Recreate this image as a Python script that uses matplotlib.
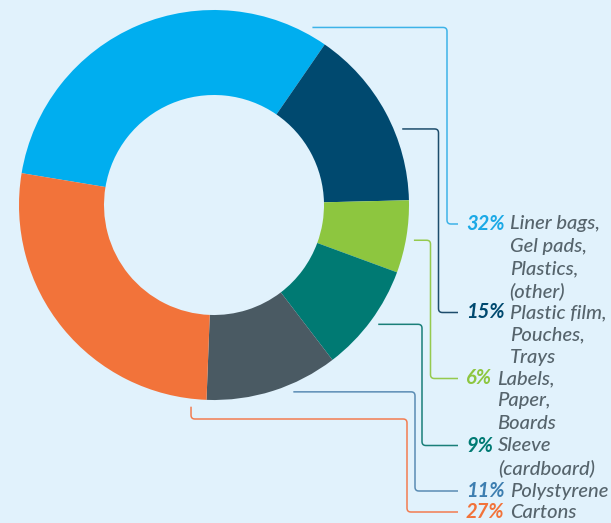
import numpy as np
import matplotlib.pyplot as plt

# data, in the order the labels are listed
pcts = [32, 15, 6, 9, 11, 27]
labels = [
    ["Liner bags,", "Gel pads,", "Plastics,", "(other)"],
    ["Plastic film,", "Pouches,", "Trays"],
    ["Labels,", "Paper,", "Boards"],
    ["Sleeve", "(cardboard)"],
    ["Polystyrene"],
    ["Cartons"],
]
slice_colors = ["#00AEEF", "#00496F", "#8DC63F", "#007A73", "#4A5A63", "#F2733A"]
pct_colors = ["#1BA9E6", "#00496F", "#8DC63F", "#007A73", "#3D7EB0", "#F2733A"]
line_colors = ["#3DB3E8", "#1D4D6C", "#95CA4E", "#1A7F79", "#5A8CB4", "#F27C50"]

# layout (pixel coords, y from top)
W, H = 611, 523
cx, cy, R, ring = 214, 205, 195, 85
anchor_ang = [61, 22, -10, -36, -67, -96.5]
anchor_r = 203
elbow_x = [447, 438.5, 430.5, 422, 415, 407]
text_y = [224, 312.5, 378.5, 445.5, 491, 512]
line_end = 458
pct_x = 466
lh = 22.3

fig = plt.figure(figsize=(W / 100, H / 100), dpi=100, facecolor="#E1F2FC")
ax = fig.add_axes([0, 0, 1, 1])
ax.set_facecolor("#E1F2FC")

ax.pie(pcts, colors=slice_colors, startangle=170.6, counterclock=False,
       radius=R, center=(cx, H - cy), frame=True,
       wedgeprops=dict(width=ring, linewidth=0))
ax.set_xlim(0, W)
ax.set_ylim(0, H)
ax.axis("off")


def rounded(pts, r=4):
    pts = [np.array(p, float) for p in pts]
    out = [pts[0]]
    for i in range(1, len(pts) - 1):
        a, p, b = pts[i - 1], pts[i], pts[i + 1]
        u1 = (a - p) / np.linalg.norm(a - p)
        u2 = (b - p) / np.linalg.norm(b - p)
        p0, p1 = p + u1 * r, p + u2 * r
        for t in np.linspace(0, 1, 8):
            out.append((1 - t) ** 2 * p0 + 2 * (1 - t) * t * p + t ** 2 * p1)
    out.append(pts[-1])
    return np.array(out)


font = dict(family="Lato", style="italic", fontsize=14.5)
fig.canvas.draw()
rend = fig.canvas.get_renderer()

for i in range(len(pcts)):
    a = np.radians(anchor_ang[i])
    x0 = cx + anchor_r * np.cos(a)
    y0 = cy - anchor_r * np.sin(a)
    ty = text_y[i]
    if i == len(pcts) - 1:
        pts = [(x0, y0), (x0, 419), (elbow_x[i], 419), (elbow_x[i], ty), (line_end, ty)]
    else:
        pts = [(x0, y0), (elbow_x[i], y0), (elbow_x[i], ty), (line_end, ty)]
    path = rounded(pts)
    ax.plot(path[:, 0], H - path[:, 1], color=line_colors[i], lw=1.1,
            solid_capstyle="butt")

    t = ax.text(pct_x, H - ty, f"{pcts[i]}%", color=pct_colors[i],
                fontweight="bold", va="center", ha="left", **font)
    bb = t.get_window_extent(renderer=rend)
    lx = bb.x1 + 5
    for j, s in enumerate(labels[i]):
        ax.text(lx, H - ty - j * lh, s, color="#56646C", va="center",
                ha="left", fontweight="medium", **font)

fig.savefig("out.png", dpi=100, facecolor=fig.get_facecolor())
